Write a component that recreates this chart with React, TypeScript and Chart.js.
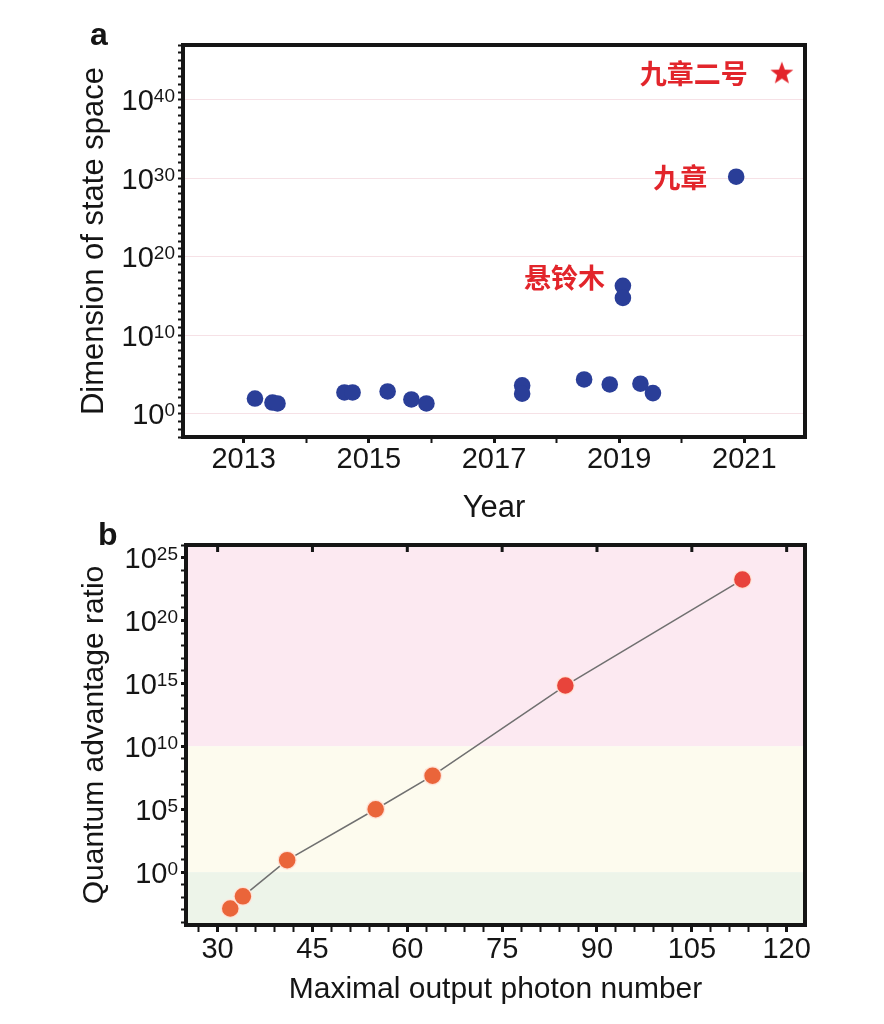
import { useEffect, useRef } from "react";
import { Chart, registerables } from "chart.js";
import type { Plugin, Scale } from "chart.js";

Chart.register(...registerables);

const SANS = "'Liberation Sans', Arial, Helvetica, sans-serif";
const CJK = "'Noto Sans CJK SC', 'Noto Sans CJK JP', sans-serif";
const INK = "#151515";

// ---- panel a: dimension of state space vs year ----
const stateYears = [
  2013.18, 2013.46, 2013.54, 2014.61, 2014.74, 2015.3, 2015.68, 2015.92,
  2017.45, 2017.45, 2018.44, 2018.85, 2019.06, 2019.06, 2019.34, 2019.54, 2020.87,
];
const stateDims = [
  80, 25, 19, 480, 480, 650, 62, 19,
  3800, 330, 22000, 5000, 1.9e16, 5.5e14, 6300, 400, 1.6e30,
];
const jiuzhang2Years = [2021.6];
const jiuzhang2Dims = [3e43];

const yearTicks = [2013, 2014, 2015, 2016, 2017, 2018, 2019, 2020, 2021];
const yearLabels = [2013, 2015, 2017, 2019, 2021];
const dimExponents = [0, 10, 20, 30, 40];

// names written next to points: dataset index / point index
const noteTexts = ["悬铃木", "九章", "九章二号"];
const noteDatasets = [0, 0, 1];
const notePoints = [12, 16, 0];

// ---- panel b: quantum advantage ratio vs photon number ----
const photonNumbers = [32, 34, 41, 55, 64, 85, 113];
const advantageRatios = [1.3e-3, 1.2e-2, 9, 1e5, 4.6e7, 6.8e14, 1.8e23];
const photonTicks = [
  27, 30, 33, 36, 39, 42, 45, 48, 51, 54, 57, 60, 63, 66, 69, 72, 75, 78, 81,
  84, 87, 90, 93, 96, 99, 102, 105, 108, 111, 114, 117, 120,
];
const photonLabels = [30, 45, 60, 75, 90, 105, 120];
const ratioExponents = [0, 5, 10, 15, 20, 25];
const regimeEdges = [1, 1e10];

function decades(from: number, to: number) {
  const out: number[] = [];
  for (let e = from; e <= to; e++) out.push(e);
  return out;
}

function isMajor(v: number | undefined, step: number) {
  if (v == null) return false;
  return Math.round(Math.log10(v)) % step === 0;
}

function starImage(r: number, color: string) {
  const c = document.createElement("canvas");
  const s = Math.ceil(r * 2 + 2);
  c.width = s;
  c.height = s;
  const g = c.getContext("2d")!;
  g.fillStyle = color;
  g.beginPath();
  for (let k = 0; k < 10; k++) {
    const rad = k % 2 === 0 ? r : r * 0.42;
    const a = -Math.PI / 2 + (k * Math.PI) / 5;
    g.lineTo(s / 2 + rad * Math.cos(a), s / 2 + 1 + rad * Math.sin(a));
  }
  g.closePath();
  g.fill();
  return c;
}

const framePlugin: Plugin = {
  id: "frame",
  afterDraw(chart) {
    const { ctx, chartArea } = chart;
    const { left, top, right, bottom } = chartArea;
    ctx.save();
    ctx.strokeStyle = INK;
    ctx.lineWidth = 4;
    ctx.strokeRect(left, top, right - left, bottom - top);
    ctx.restore();
  },
};

// "10" with a raised exponent, drawn at each labelled decade
function powerLabels(exps: number[]): Plugin {
  return {
    id: "powerLabels",
    afterDraw(chart) {
      const { ctx, chartArea } = chart;
      const y = chart.scales.y;
      const right = chartArea.left - 8;
      ctx.save();
      ctx.fillStyle = INK;
      ctx.textBaseline = "alphabetic";
      exps.forEach((e) => {
        const py = y.getPixelForValue(10 ** e);
        ctx.font = `19px ${SANS}`;
        const ew = ctx.measureText(String(e)).width;
        ctx.textAlign = "left";
        ctx.fillText(String(e), right - ew, py + 2.5);
        ctx.font = `29px ${SANS}`;
        ctx.textAlign = "right";
        ctx.fillText("10", right - ew, py + 10.5);
      });
      ctx.restore();
    },
  };
}

const notesPlugin: Plugin = {
  id: "notes",
  afterDatasetsDraw(chart) {
    const { ctx } = chart;
    const offsets = [
      [-18, -8],
      [-29, 1],
      [-34, 1],
    ];
    ctx.save();
    ctx.font = `bold 27px ${CJK}`;
    ctx.fillStyle = "#e2252b";
    ctx.textAlign = "right";
    ctx.textBaseline = "middle";
    noteTexts.forEach((t, i) => {
      const el = chart.getDatasetMeta(noteDatasets[i]).data[notePoints[i]];
      if (!el) return;
      ctx.fillText(t, el.x + offsets[i][0], el.y + offsets[i][1]);
    });
    ctx.restore();
  },
};

const bandsPlugin: Plugin = {
  id: "bands",
  beforeDatasetsDraw(chart) {
    const { ctx, chartArea } = chart;
    const y = chart.scales.y;
    const { left, right, top, bottom } = chartArea;
    const pLow = y.getPixelForValue(regimeEdges[0]);
    const pHigh = y.getPixelForValue(regimeEdges[1]);
    ctx.save();
    ctx.fillStyle = "#fce9f1";
    ctx.fillRect(left, top, right - left, pHigh - top);
    ctx.fillStyle = "#fdfbee";
    ctx.fillRect(left, pHigh, right - left, pLow - pHigh);
    ctx.fillStyle = "#edf4e9";
    ctx.fillRect(left, pLow, right - left, bottom - pLow);
    ctx.restore();
  },
};

const topTicksPlugin: Plugin = {
  id: "topTicks",
  afterDraw(chart) {
    const { ctx, chartArea } = chart;
    const x = chart.scales.x;
    ctx.save();
    ctx.strokeStyle = INK;
    ctx.lineWidth = 3;
    photonLabels.forEach((v) => {
      const px = x.getPixelForValue(v);
      ctx.beginPath();
      ctx.moveTo(px, chartArea.top);
      ctx.lineTo(px, chartArea.top + 7);
      ctx.stroke();
    });
    ctx.restore();
  },
};

export default function App() {
  const aRef = useRef<HTMLCanvasElement>(null);
  const bRef = useRef<HTMLCanvasElement>(null);

  useEffect(() => {
    if (!aRef.current || !bRef.current) return;
    const star = starImage(12, "#e3242b");

    const chartA = new Chart(aRef.current, {
      type: "scatter",
      data: {
        datasets: [
          {
            data: stateYears.map((x, i) => ({ x, y: stateDims[i] })),
            backgroundColor: "#2a3e98",
            borderWidth: 0,
            pointRadius: 8.3,
          },
          {
            data: jiuzhang2Years.map((x, i) => ({ x, y: jiuzhang2Dims[i] })),
            pointStyle: star,
            backgroundColor: "#e3242b",
            borderWidth: 0,
          },
        ],
      },
      options: {
        animation: false,
        responsive: true,
        maintainAspectRatio: false,
        events: [],
        layout: { padding: { top: 45, right: 79, left: 0, bottom: 0 } },
        plugins: { legend: { display: false }, tooltip: { enabled: false } },
        scales: {
          x: {
            type: "linear",
            min: 2012.03,
            max: 2021.97,
            afterBuildTicks: (s: Scale) => {
              s.ticks = yearTicks.map((value) => ({ value }));
            },
            afterFit: (s: Scale) => {
              s.height = 93;
            },
            ticks: {
              autoSkip: false,
              maxRotation: 0,
              padding: 2,
              color: INK,
              font: { family: SANS, size: 29, lineHeight: 1 },
              callback: (v) => (yearLabels.includes(Number(v)) ? String(v) : ""),
            },
            grid: {
              drawOnChartArea: false,
              drawTicks: true,
              tickLength: 6,
              tickColor: INK,
              tickWidth: (c) => (yearLabels.includes(c.tick?.value) ? 3 : 2),
            },
            border: { display: false },
            title: {
              display: true,
              text: "Year",
              color: INK,
              font: { family: SANS, size: 31 },
              padding: { top: 0, bottom: 3 },
            },
          },
          y: {
            type: "logarithmic",
            min: 1e-3,
            max: 1e47,
            afterBuildTicks: (s: Scale) => {
              s.ticks = decades(-3, 47).map((e) => ({ value: 10 ** e }));
            },
            afterFit: (s: Scale) => {
              s.width = 183;
            },
            ticks: { autoSkip: false, callback: () => "" },
            grid: {
              drawTicks: true,
              tickLength: 5,
              tickColor: INK,
              tickWidth: 2,
              lineWidth: 1,
              color: (c) => (isMajor(c.tick?.value, 10) ? "#f6e1e6" : "rgba(0,0,0,0)"),
            },
            border: { display: false },
            title: {
              display: true,
              text: "Dimension of state space",
              color: INK,
              font: { family: SANS, size: 31 },
              padding: { top: 76, bottom: 0 },
            },
          },
        },
      },
      plugins: [framePlugin, powerLabels(dimExponents), notesPlugin],
    });

    const chartB = new Chart(bRef.current, {
      type: "scatter",
      data: {
        datasets: [
          {
            data: photonNumbers.map((x, i) => ({ x, y: advantageRatios[i] })),
            showLine: true,
            borderColor: "#707070",
            borderWidth: 1.5,
            pointRadius: 9,
            pointBorderWidth: 1.5,
            pointBorderColor: "rgba(255,232,222,0.9)",
            pointBackgroundColor: (c: any) =>
              c.raw && c.raw.y > regimeEdges[1] ? "#e8443b" : "#ea653a",
          },
        ],
      },
      options: {
        animation: false,
        responsive: true,
        maintainAspectRatio: false,
        events: [],
        layout: { padding: { top: 30, right: 79, left: 0, bottom: 0 } },
        plugins: { legend: { display: false }, tooltip: { enabled: false } },
        scales: {
          x: {
            type: "linear",
            min: 25,
            max: 122.9,
            afterBuildTicks: (s: Scale) => {
              s.ticks = photonTicks.map((value) => ({ value }));
            },
            afterFit: (s: Scale) => {
              s.height = 99;
            },
            ticks: {
              autoSkip: false,
              maxRotation: 0,
              padding: 3.5,
              color: INK,
              font: { family: SANS, size: 29, lineHeight: 1 },
              callback: (v) => (photonLabels.includes(Number(v)) ? String(v) : ""),
            },
            grid: {
              drawOnChartArea: false,
              drawTicks: true,
              tickLength: 7,
              tickColor: INK,
              tickWidth: (c) => (photonLabels.includes(c.tick?.value) ? 3 : 2),
            },
            border: { display: false },
            title: {
              display: true,
              text: "Maximal output photon number",
              color: INK,
              font: { family: SANS, size: 30 },
              padding: { top: 0, bottom: 16 },
            },
          },
          y: {
            type: "logarithmic",
            min: 6.3e-5,
            max: 1e26,
            afterBuildTicks: (s: Scale) => {
              s.ticks = decades(-4, 26).map((e) => ({ value: 10 ** e }));
            },
            afterFit: (s: Scale) => {
              s.width = 186;
            },
            ticks: { autoSkip: false, callback: () => "" },
            grid: {
              drawOnChartArea: false,
              drawTicks: true,
              tickLength: 5,
              tickColor: INK,
              tickWidth: (c) => (isMajor(c.tick?.value, 5) ? 3 : 2),
            },
            border: { display: false },
            title: {
              display: true,
              text: "Quantum advantage ratio",
              color: INK,
              font: { family: SANS, size: 30 },
              padding: { top: 77, bottom: 0 },
            },
          },
        },
      },
      plugins: [bandsPlugin, framePlugin, topTicksPlugin, powerLabels(ratioExponents)],
    });

    return () => {
      chartA.destroy();
      chartB.destroy();
    };
  }, []);

  const letter = (left: number, top: number) => ({
    position: "absolute" as const,
    left,
    top,
    fontFamily: SANS,
    fontWeight: 700,
    fontSize: 32,
    lineHeight: "32px",
    color: INK,
  });

  return (
    <div style={{ position: "absolute", left: 0, top: 0, width: 884, height: 1024, background: "#fff" }}>
      <div style={{ position: "absolute", left: 0, top: 0, width: 884, height: 530 }}>
        <canvas ref={aRef} />
      </div>
      <div style={{ position: "absolute", left: 0, top: 515, width: 884, height: 509 }}>
        <canvas ref={bRef} />
      </div>
      <div style={letter(90, 18)}>a</div>
      <div style={letter(98, 518)}>b</div>
    </div>
  );
}
